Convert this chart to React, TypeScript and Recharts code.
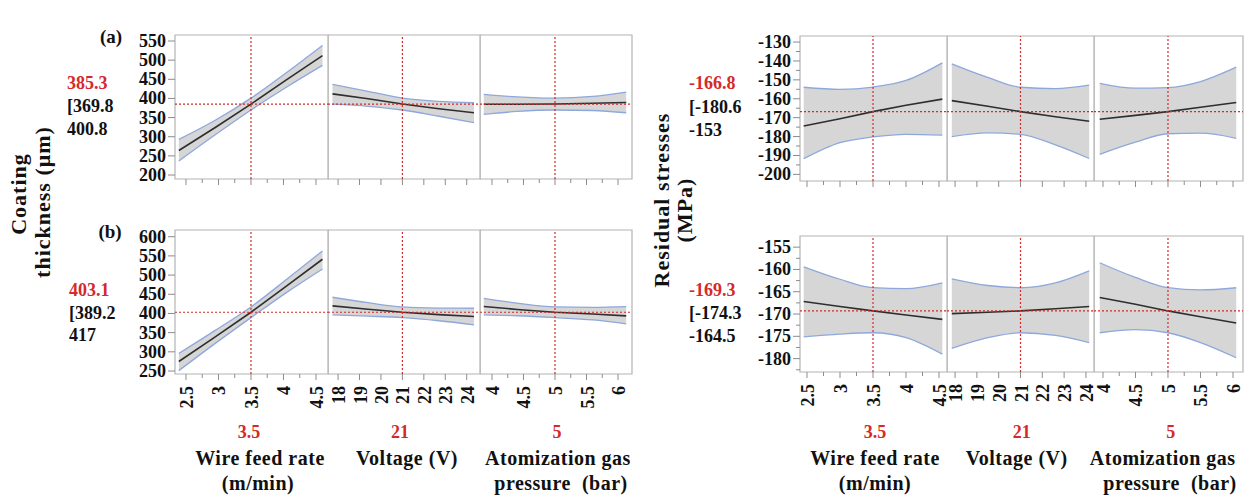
import React from 'react';
import { ComposedChart, Area, Line, XAxis, YAxis, ReferenceLine, ReferenceArea } from 'recharts';

// FACTOR SETTINGS (x of the profiler traces)
const feedXL = [2.39, 2.95, 3.5, 4.05, 4.6];
const voltXL = [17.74, 19.4, 21, 22.7, 24.34];
const pressXL = [3.87, 4.4, 5, 5.6, 6.13];
const feedXR = [2.45, 3, 3.5, 4, 4.55];
const voltXR = [17.85, 19.5, 21, 22.6, 24.15];
const pressXR = [3.95, 4.5, 5, 5.5, 6.05];

// (a) coating thickness
const thickAFeedFit = [264, 324, 385.3, 449, 512];
const thickAFeedLow = [236.5, 305, 369.8, 430, 486.4];
const thickAFeedHigh = [293, 343, 400.8, 468, 538.6];
const thickAVoltFit = [412, 399, 385.3, 373, 362.6];
const thickAVoltLow = [385, 379.5, 369.8, 353.5, 336.6];
const thickAVoltHigh = [437, 418.5, 400.8, 392.5, 388.7];
const thickAPressFit = [384.8, 385, 385.3, 387.5, 389.6];
const thickAPressLow = [358.5, 366, 369.8, 368.5, 362.6];
const thickAPressHigh = [410.7, 404, 400.8, 405.5, 416.7];

// (b) coating thickness
const thickBFeedFit = [274.7, 339, 403.1, 472, 541.3];
const thickBFeedLow = [251, 322, 389.2, 455, 516];
const thickBFeedHigh = [296, 356, 417, 489, 563];
const thickBVoltFit = [419.8, 411, 403.1, 397, 391.9];
const thickBVoltLow = [396.4, 393, 389.2, 381, 370.3];
const thickBVoltHigh = [442.2, 428, 417, 414, 413.6];
const thickBPressFit = [418, 410.5, 403.1, 398.5, 393.8];
const thickBPressLow = [396.4, 394, 389.2, 383, 372.9];
const thickBPressHigh = [439.6, 427, 417, 416, 418];

// (a) residual stresses
const stressAFeedFit = [-174.4, -170.6, -166.8, -163.4, -160.2];
const stressAFeedLow = [-191.7, -183.2, -180.2, -178.8, -179.2];
const stressAFeedHigh = [-153.9, -155, -153.8, -150.3, -141];
const stressAVoltFit = [-161, -164, -166.8, -169.5, -171.9];
const stressAVoltLow = [-180, -178, -178.8, -184.4, -191.6];
const stressAVoltHigh = [-141.5, -148.7, -153.9, -154.6, -152.8];
const stressAPressFit = [-170.8, -168.8, -166.8, -164.5, -162];
const stressAPressLow = [-189.4, -183, -178.5, -178.2, -180.9];
const stressAPressHigh = [-151.8, -154.4, -154.1, -150.9, -143.3];

// (b) residual stresses
const stressBFeedFit = [-167.2, -168.3, -169.3, -170.2, -171.2];
const stressBFeedLow = [-175.1, -174.5, -174.2, -175.3, -179];
const stressBFeedHigh = [-159.4, -162.2, -164.1, -164.3, -163];
const stressBVoltFit = [-169.9, -169.6, -169.3, -168.8, -168.3];
const stressBVoltLow = [-177.7, -175.3, -174.2, -174.8, -176.4];
const stressBVoltHigh = [-162.1, -163.6, -164.1, -163, -160.3];
const stressBPressFit = [-166.3, -167.8, -169.3, -170.6, -172];
const stressBPressLow = [-174.2, -173.5, -174.2, -176.4, -179.8];
const stressBPressHigh = [-158.5, -161.8, -164.1, -164.6, -164.1];

// TICKS
const feedTicks = [2.5, 2.75, 3, 3.25, 3.5, 3.75, 4, 4.25, 4.5];
const feedMajor = [2.5, 3, 3.5, 4, 4.5];
const voltTicks = [18, 19, 20, 21, 22, 23, 24];
const pressTicks = [4, 4.25, 4.5, 4.75, 5, 5.25, 5.5, 5.75, 6];
const pressMajor = [4, 4.5, 5, 5.5, 6];
const thickATicks = [200, 250, 300, 350, 400, 450, 500, 550];
const thickBTicks = [250, 300, 350, 400, 450, 500, 550, 600];
const stressATicks = [-200, -195, -190, -185, -180, -175, -170, -165, -160, -155, -150, -145, -140, -135, -130];
const stressAMajor = [-200, -190, -180, -170, -160, -150, -140, -130];
const stressBTicks = [-182.5, -180, -177.5, -175, -172.5, -170, -167.5, -165, -162.5, -160, -157.5, -155];
const stressBMajor = [-180, -175, -170, -165, -160, -155];

const RED = '#d42a2a';
const BORDER = '#b4b4b4';
const FONT = "'Liberation Serif', 'Times New Roman', serif";
const Y_W = 50;
const TOP_PAD = 12;
const RIGHT_PAD = 12;

interface Row { x: number; fit: number; low: number; high: number; band: [number, number] }

const toRows = (xs: number[], fit: number[], low: number[], high: number[]): Row[] =>
    xs.map((x, i) => ({ x, fit: fit[i], low: low[i], high: high[i], band: [low[i], high[i]] }));

const has = (list: number[], v: number) => list.some(m => Math.abs(m - v) < 1e-6);

const xTick = (major: number[], showLabel: boolean) => (p: any) => {
    const v = p.payload.value;
    const big = has(major, v);
    const tx = p.x + 1;
    const ty = p.y + 12;
    return (
        <g>
            <line x1={p.x} x2={p.x} y1={p.y} y2={p.y + (big ? 6 : 4)} stroke="#8c8c8c" />
            {showLabel && big && (
                <text x={tx} y={ty} transform={`rotate(-90 ${tx} ${ty})`} textAnchor="end" dominantBaseline="central"
                    fontFamily={FONT} fontWeight="bold" fontSize={18} fill="#111">{v}</text>
            )}
        </g>
    );
};

const yTick = (major: number[]) => (p: any) => {
    const v = p.payload.value;
    const big = has(major, v);
    return (
        <g>
            <line x1={p.x - (big ? 7 : 4)} x2={p.x} y1={p.y} y2={p.y} stroke="#8c8c8c" />
            {big && (
                <text x={p.x - 9} y={p.y} textAnchor="end" dominantBaseline="central"
                    fontFamily={FONT} fontWeight="bold" fontSize={18} fill="#111">{v}</text>
            )}
        </g>
    );
};

// PANEL
interface PanelProps {
    left: number; top: number; w: number; h: number;
    rows: Row[];
    xDomain: [number, number]; xTicks: number[]; xMajor: number[]; xLabels: boolean;
    yDomain: [number, number]; yTicks?: number[]; yMajor?: number[];
    xCur: number; yCur: number;
}

const Panel: React.FC<PanelProps> = (p) => {
    const yw = p.yTicks ? Y_W : 0;
    const xh = p.xLabels ? 45 : 10;
    return (
        <div style={{ position: 'absolute', left: p.left - yw, top: p.top - TOP_PAD }}>
            <ComposedChart width={yw + p.w + RIGHT_PAD} height={TOP_PAD + p.h + xh} data={p.rows}
                margin={{ top: TOP_PAD, right: RIGHT_PAD, left: 0, bottom: 0 }}>
                <XAxis dataKey="x" type="number" domain={p.xDomain} ticks={p.xTicks} interval={0} allowDataOverflow
                    axisLine={false} tickLine={false} tickSize={0} tickMargin={0} height={xh} tick={xTick(p.xMajor, p.xLabels)} />
                {p.yTicks
                    ? <YAxis type="number" domain={p.yDomain} ticks={p.yTicks} interval={0} allowDataOverflow width={yw}
                        axisLine={false} tickLine={false} tickSize={0} tickMargin={0} tick={yTick(p.yMajor || p.yTicks)} />
                    : <YAxis hide type="number" domain={p.yDomain} allowDataOverflow />}
                <ReferenceArea x1={p.xDomain[0]} x2={p.xDomain[1]} y1={p.yDomain[0]} y2={p.yDomain[1]} fill="none" fillOpacity={0} stroke={BORDER} strokeWidth={1.2} />
                <Area dataKey="band" type="monotone" fill="#d6d6d6" fillOpacity={1} stroke="none" isAnimationActive={false} />
                <Line dataKey="high" type="monotone" stroke="#8ea8dc" strokeWidth={1.3} dot={false} isAnimationActive={false} />
                <Line dataKey="low" type="monotone" stroke="#8ea8dc" strokeWidth={1.3} dot={false} isAnimationActive={false} />
                <Line dataKey="fit" type="linear" stroke="#2e2e2e" strokeWidth={1.6} dot={false} isAnimationActive={false} />
                <ReferenceLine x={p.xCur} stroke={RED} strokeDasharray="2 2" strokeWidth={1.2} />
                <ReferenceLine y={p.yCur} stroke={RED} strokeDasharray="2 2" strokeWidth={1.2} />
            </ComposedChart>
        </div>
    );
};

// TEXT
interface TxtProps { x: number; y: number; size?: number; color?: string; left?: boolean; rotate?: boolean; ls?: number; children: React.ReactNode }

const Txt: React.FC<TxtProps> = ({ x, y, size = 18, color = '#111', left, rotate, ls = 0, children }) => (
    <div style={{
        position: 'absolute', left: x, top: y, fontSize: size, color, letterSpacing: ls, lineHeight: 1,
        whiteSpace: 'pre', transform: (left ? 'translateY(-50%)' : 'translate(-50%, -50%)') + (rotate ? ' rotate(-90deg)' : ''),
    }}>{children}</div>
);

const FactorLabels: React.FC<{ red: number[]; t1: number; t2: number; t3: number; b1: number; b3: number }> = ({ red, t1, t2, t3, b1, b3 }) => (
    <>
        <Txt x={red[0]} y={432} color={RED}>3.5</Txt>
        <Txt x={red[1]} y={432} color={RED}>21</Txt>
        <Txt x={red[2]} y={432} color={RED}>5</Txt>
        <Txt x={t1} y={458} size={20} ls={0.5}>Wire feed rate</Txt>
        <Txt x={b1} y={483} size={20} ls={0.5}>(m/min)</Txt>
        <Txt x={t2} y={458} size={20} ls={0.5}>Voltage (V)</Txt>
        <Txt x={t3} y={458} size={20} ls={0.5}>Atomization gas</Txt>
        <Txt x={b3} y={483} size={20} ls={0.5}>pressure  (bar)</Txt>
    </>
);

const App: React.FC = () => {
    const L = [{ l: 175, w: 153 }, { l: 328, w: 152 }, { l: 480, w: 152 }];
    const R = [{ l: 800, w: 147 }, { l: 947, w: 147 }, { l: 1094, w: 149 }];
    const lFeed: [number, number] = [2.331, 4.685];
    const lVolt: [number, number] = [17.53, 24.62];
    const lPress: [number, number] = [3.81, 6.222];
    const rFeed: [number, number] = [2.394, 4.621];
    const rVolt: [number, number] = [17.63, 24.37];
    const rPress: [number, number] = [3.862, 6.154];
    const yThickA: [number, number] = [189.6, 565.7];
    const yThickB: [number, number] = [242.2, 617.5];
    const yStressA: [number, number] = [-203.5, -126.8];
    const yStressB: [number, number] = [-183.0, -152.5];

    return (
        <div style={{ position: 'absolute', left: 0, top: 0, width: 1252, height: 496, background: '#fff', fontFamily: FONT, fontWeight: 'bold', overflow: 'hidden' }}>
            {/* left group: coating thickness */}
            <Panel left={L[0].l} top={35} w={L[0].w} h={144} rows={toRows(feedXL, thickAFeedFit, thickAFeedLow, thickAFeedHigh)}
                xDomain={lFeed} xTicks={feedTicks} xMajor={feedMajor} xLabels={false} yDomain={yThickA} yTicks={thickATicks} xCur={3.5} yCur={385.3} />
            <Panel left={L[1].l} top={35} w={L[1].w} h={144} rows={toRows(voltXL, thickAVoltFit, thickAVoltLow, thickAVoltHigh)}
                xDomain={lVolt} xTicks={voltTicks} xMajor={voltTicks} xLabels={false} yDomain={yThickA} xCur={21} yCur={385.3} />
            <Panel left={L[2].l} top={35} w={L[2].w} h={144} rows={toRows(pressXL, thickAPressFit, thickAPressLow, thickAPressHigh)}
                xDomain={lPress} xTicks={pressTicks} xMajor={pressMajor} xLabels={false} yDomain={yThickA} xCur={5} yCur={385.3} />

            <Panel left={L[0].l} top={230} w={L[0].w} h={144} rows={toRows(feedXL, thickBFeedFit, thickBFeedLow, thickBFeedHigh)}
                xDomain={lFeed} xTicks={feedTicks} xMajor={feedMajor} xLabels yDomain={yThickB} yTicks={thickBTicks} xCur={3.5} yCur={403.1} />
            <Panel left={L[1].l} top={230} w={L[1].w} h={144} rows={toRows(voltXL, thickBVoltFit, thickBVoltLow, thickBVoltHigh)}
                xDomain={lVolt} xTicks={voltTicks} xMajor={voltTicks} xLabels yDomain={yThickB} xCur={21} yCur={403.1} />
            <Panel left={L[2].l} top={230} w={L[2].w} h={144} rows={toRows(pressXL, thickBPressFit, thickBPressLow, thickBPressHigh)}
                xDomain={lPress} xTicks={pressTicks} xMajor={pressMajor} xLabels yDomain={yThickB} xCur={5} yCur={403.1} />

            {/* right group: residual stresses */}
            <Panel left={R[0].l} top={36} w={R[0].w} h={145} rows={toRows(feedXR, stressAFeedFit, stressAFeedLow, stressAFeedHigh)}
                xDomain={rFeed} xTicks={feedTicks} xMajor={feedMajor} xLabels={false} yDomain={yStressA} yTicks={stressATicks} yMajor={stressAMajor} xCur={3.5} yCur={-166.8} />
            <Panel left={R[1].l} top={36} w={R[1].w} h={145} rows={toRows(voltXR, stressAVoltFit, stressAVoltLow, stressAVoltHigh)}
                xDomain={rVolt} xTicks={voltTicks} xMajor={voltTicks} xLabels={false} yDomain={yStressA} xCur={21} yCur={-166.8} />
            <Panel left={R[2].l} top={36} w={R[2].w} h={145} rows={toRows(pressXR, stressAPressFit, stressAPressLow, stressAPressHigh)}
                xDomain={rPress} xTicks={pressTicks} xMajor={pressMajor} xLabels={false} yDomain={yStressA} xCur={5} yCur={-166.8} />

            <Panel left={R[0].l} top={236} w={R[0].w} h={136} rows={toRows(feedXR, stressBFeedFit, stressBFeedLow, stressBFeedHigh)}
                xDomain={rFeed} xTicks={feedTicks} xMajor={feedMajor} xLabels yDomain={yStressB} yTicks={stressBTicks} yMajor={stressBMajor} xCur={3.5} yCur={-169.3} />
            <Panel left={R[1].l} top={236} w={R[1].w} h={136} rows={toRows(voltXR, stressBVoltFit, stressBVoltLow, stressBVoltHigh)}
                xDomain={rVolt} xTicks={voltTicks} xMajor={voltTicks} xLabels yDomain={yStressB} xCur={21} yCur={-169.3} />
            <Panel left={R[2].l} top={236} w={R[2].w} h={136} rows={toRows(pressXR, stressBPressFit, stressBPressLow, stressBPressHigh)}
                xDomain={rPress} xTicks={pressTicks} xMajor={pressMajor} xLabels yDomain={yStressB} xCur={5} yCur={-169.3} />

            {/* panel tags and predicted values */}
            <Txt x={111} y={35.5} size={19}>(a)</Txt>
            <Txt x={110} y={231} size={19}>(b)</Txt>

            <Txt x={67} y={83} left color={RED}>385.3</Txt>
            <Txt x={67} y={106} left>[369.8</Txt>
            <Txt x={67} y={129} left>400.8</Txt>
            <Txt x={69} y={290} left color={RED}>403.1</Txt>
            <Txt x={69} y={313} left>[389.2</Txt>
            <Txt x={69} y={335} left>417</Txt>

            <Txt x={689} y={83} left color={RED}>-166.8</Txt>
            <Txt x={689} y={107} left>[-180.6</Txt>
            <Txt x={689} y={130} left>-153</Txt>
            <Txt x={689} y={290} left color={RED}>-169.3</Txt>
            <Txt x={689} y={313} left>[-174.3</Txt>
            <Txt x={689} y={336} left>-164.5</Txt>

            {/* response titles */}
            <Txt x={19} y={194} size={22} ls={1} rotate>Coating</Txt>
            <Txt x={42.5} y={202} size={22} ls={1} rotate>thickness (μm)</Txt>
            <Txt x={662} y={200} size={22} ls={1} rotate>Residual stresses</Txt>
            <Txt x={685} y={210} size={22} ls={1} rotate>(MPa)</Txt>

            {/* factor titles */}
            <FactorLabels red={[249, 400, 557]} t1={260} t2={407} t3={558} b1={258} b3={561} />
            <FactorLabels red={[875, 1021.7, 1170.7]} t1={875} t2={1016.7} t3={1162.7} b1={875} b3={1170} />
        </div>
    );
};

export default App;
